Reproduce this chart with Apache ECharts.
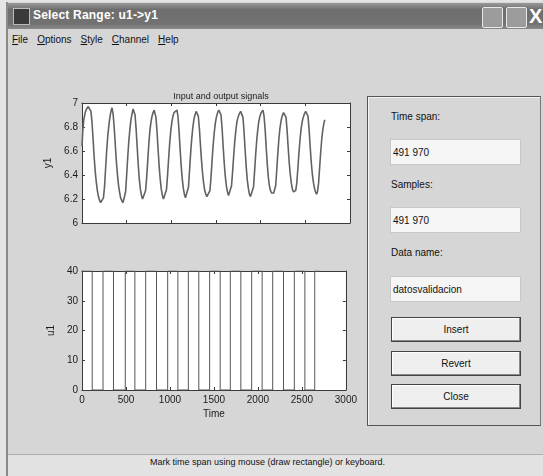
<!DOCTYPE html>
<html>
<head>
<meta charset="utf-8">
<script src="https://cdn.jsdelivr.net/npm/echarts@6/dist/echarts.min.js"></script>
<style>
  html, body { margin:0; padding:0; width:543px; height:476px; overflow:hidden; background:#e4e4e4; font-family:"Liberation Sans", Arial, sans-serif; }
  .abs { position:absolute; }
  #win { left:6px; top:2px; width:537px; height:474px; background:#d6d6d6; border-left:2px solid #8a8a8a; }
  #titlebar { left:8px; top:3px; width:535px; height:26px; background:linear-gradient(#9a9a9a 0%, #6e6e6e 25%, #727272 80%, #8a8a8a 100%); }
  #title { left:33px; top:8px; color:#fff; font-size:12px; font-weight:bold; letter-spacing:0.2px; }
  #icon { left:13px; top:8px; width:15px; height:15px; background:#3a3a3a; border:1px solid #bbb; }
  .wbtn { top:7px; width:19px; height:19px; border:1px solid #e8e8e8; background:#9c9c9c; border-radius:2px; }
  #menu { left:8px; top:34px; width:535px; height:16px; font-size:10px; color:#111; }
  #menu span { margin-left:4px; margin-right:5px; }
  #chart { left:0; top:0; width:360px; height:440px; }
  #panel { left:367px; top:96px; width:172px; height:328px; border:1px solid #555; border-right-color:#777; box-shadow: inset 1px 1px 0 #f4f4f4; }
  .lbl { font-size:10px; color:#111; }
  .edit { width:131px; height:26px; background:#f5f5f5; border:1px solid #c8c8c8; font-size:10px; color:#111; line-height:26px; padding-left:2px; box-sizing:border-box; }
  .btn { width:130px; height:25px; background:#efefef; border:1px solid #444; box-shadow: inset -1px -1px 0 #888, inset 1px 1px 0 #fff; font-size:10px; color:#111; text-align:center; line-height:24px; box-sizing:border-box; }
  #status { left:8px; top:454px; width:535px; height:22px; background:#e2e2e2; border-top:1px solid #b0b0b0; }
  #stxt { left:0; top:457px; width:535px; text-align:center; font-size:9px; color:#111; }
</style>
</head>
<body>
<div id="win" class="abs"></div>
<div id="titlebar" class="abs"></div>
<div id="icon" class="abs"></div>
<div id="title" class="abs">Select Range: u1-&gt;y1</div>
<div class="abs wbtn" style="left:482px;"></div>
<div class="abs wbtn" style="left:506px;"></div>
<div class="abs" style="left:529px;top:5px;color:#fff;font-size:20px;font-weight:bold;">X</div>
<div id="menu" class="abs"><span><u>F</u>ile</span><span><u>O</u>ptions</span><span><u>S</u>tyle</span><span><u>C</u>hannel</span><span><u>H</u>elp</span></div>
<div id="status" class="abs"></div>
<div id="chart" class="abs"></div>
<div id="panel" class="abs"></div>
<div class="abs lbl" style="left:391px;top:111px;">Time span:</div>
<div class="abs edit" style="left:390px;top:139px;">491 970</div>
<div class="abs lbl" style="left:391px;top:179px;">Samples:</div>
<div class="abs edit" style="left:390px;top:207px;">491 970</div>
<div class="abs lbl" style="left:391px;top:247px;">Data name:</div>
<div class="abs edit" style="left:390px;top:276px;">datosvalidacion</div>
<div class="abs btn" style="left:391px;top:317px;">Insert</div>
<div class="abs btn" style="left:391px;top:351px;">Revert</div>
<div class="abs btn" style="left:391px;top:384px;">Close</div>
<div id="stxt" class="abs">Mark time span using mouse (draw rectangle) or keyboard.</div>
<script>
// ---- data ----
var chartTitle = 'Input and output signals';
var xTicks = [0, 500, 1000, 1500, 2000, 2500, 3000];
var y1Ticks = [6, 6.2, 6.4, 6.6, 6.8, 7];
var u1Ticks = [0, 10, 20, 30, 40];

// output y1: [time, value]
var y1Data = [
 [0,6.64],[10,6.78],[20,6.86],[35,6.92],[50,6.95],[70,6.97],[90,6.96],
 [100,6.93],[112,6.84],[124,6.70],[136,6.55],[148,6.43],[160,6.34],[172,6.27],[184,6.22],[196,6.19],[208,6.17],[220,6.18],[230,6.16],[240,6.21],
 [252,6.30],[264,6.45],[276,6.60],[288,6.72],[300,6.81],[312,6.88],[324,6.93],[336,6.96],
 [348,6.91],[360,6.80],[372,6.66],[384,6.52],[396,6.41],[408,6.32],[420,6.26],[432,6.21],[444,6.19],[456,6.17],[466,6.19],[476,6.18],
 [488,6.26],[500,6.40],[512,6.55],[524,6.68],[536,6.78],[548,6.86],[560,6.91],[572,6.95],[582,6.96],
 [594,6.90],[606,6.78],[618,6.63],[630,6.48],[642,6.36],[654,6.28],[666,6.23],[678,6.20],[690,6.19],[700,6.21],
 [712,6.27],[724,6.38],[736,6.52],[748,6.66],[760,6.77],[772,6.84],[784,6.89],[796,6.92],[808,6.94],[817,6.93],
 [828,6.88],[840,6.76],[852,6.61],[864,6.47],[876,6.36],[888,6.28],[900,6.23],[912,6.20],[924,6.19],[934,6.21],
 [946,6.28],[958,6.40],[970,6.54],[982,6.67],[994,6.77],[1006,6.84],[1018,6.89],[1030,6.92],[1045,6.93],[1063,6.94],
 [1074,6.89],[1086,6.77],[1098,6.62],[1110,6.48],[1122,6.37],[1134,6.29],[1146,6.24],[1158,6.21],[1170,6.20],[1180,6.22],
 [1192,6.30],[1204,6.44],[1216,6.58],[1228,6.70],[1240,6.79],[1252,6.86],[1264,6.90],[1278,6.93],[1290,6.93],
 [1302,6.89],[1314,6.79],[1326,6.65],[1338,6.52],[1350,6.41],[1362,6.33],[1374,6.27],[1386,6.24],[1398,6.22],[1410,6.23],[1420,6.22],
 [1432,6.27],[1444,6.38],[1456,6.52],[1468,6.65],[1480,6.75],[1492,6.83],[1504,6.88],[1518,6.92],[1532,6.94],[1545,6.95],
 [1556,6.90],[1568,6.79],[1580,6.64],[1592,6.50],[1604,6.39],[1616,6.31],[1628,6.26],[1640,6.23],[1652,6.22],[1662,6.24],
 [1674,6.31],[1686,6.43],[1698,6.56],[1710,6.68],[1722,6.77],[1734,6.84],[1746,6.88],[1760,6.91],[1776,6.93],[1791,6.93],
 [1802,6.88],[1814,6.76],[1826,6.61],[1838,6.47],[1850,6.36],[1862,6.29],[1874,6.24],[1886,6.22],[1898,6.21],[1908,6.23],
 [1920,6.30],[1932,6.43],[1944,6.57],[1956,6.69],[1968,6.78],[1980,6.85],[1992,6.89],[2006,6.92],[2026,6.94],
 [2038,6.89],[2050,6.78],[2062,6.63],[2074,6.49],[2086,6.38],[2098,6.31],[2110,6.27],[2122,6.25],[2134,6.24],[2146,6.25],[2156,6.24],
 [2168,6.31],[2180,6.44],[2192,6.58],[2204,6.70],[2216,6.79],[2228,6.85],[2240,6.89],[2256,6.92],[2272,6.93],
 [2284,6.88],[2296,6.77],[2308,6.63],[2320,6.50],[2332,6.40],[2344,6.33],[2356,6.28],[2368,6.26],[2380,6.25],[2392,6.27],
 [2404,6.33],[2416,6.45],[2428,6.58],[2440,6.69],[2452,6.78],[2464,6.84],[2476,6.88],[2490,6.91],[2504,6.93],[2518,6.94],
 [2530,6.89],[2542,6.78],[2554,6.64],[2566,6.51],[2578,6.41],[2590,6.34],[2602,6.29],[2614,6.26],[2626,6.24],[2636,6.26],
 [2648,6.33],[2660,6.46],[2672,6.59],[2684,6.70],[2696,6.78],[2708,6.83],[2718,6.86]
];

// input u1: switching times and the level held from each time on
var u1Times  = [0, 116, 239, 358, 492, 601, 724, 847, 974, 1090, 1209, 1328, 1451, 1571, 1686, 1806, 1929, 2048, 2168, 2291, 2414, 2534, 2646, 2700];
var u1Values = [40, 0, 40, 0, 40, 0, 40, 0, 40, 0, 40, 0, 40, 0, 40, 0, 40, 0, 40, 0, 40, 0, 40, 40];

var u1Data = u1Times.map(function (t, i) { return [t, u1Values[i]]; });

var FONT = '"Liberation Sans", Arial, sans-serif';
var axisCol = '#3a3a3a';
var lblStyle = { color: '#1a1a1a', fontSize: 10, fontFamily: FONT };
function plain(v) { return String(v); }

function xAx(grid, pos, labels, name) {
  return {
    type: 'value', gridIndex: grid, position: pos, min: xTicks[0], max: xTicks[xTicks.length - 1], interval: 500,
    axisLine: { show: true, onZero: false, lineStyle: { color: axisCol, width: 1 } },
    axisTick: { show: true, inside: true, length: 3, lineStyle: { color: axisCol } },
    axisLabel: Object.assign({ show: labels, margin: 5, formatter: plain }, lblStyle),
    splitLine: { show: false },
    name: name || '', nameLocation: 'middle', nameGap: 19,
    nameTextStyle: { color: '#1a1a1a', fontSize: 10, fontFamily: FONT }
  };
}
function yAx(grid, pos, ticks, iv, labels, name) {
  return {
    type: 'value', gridIndex: grid, position: pos, min: ticks[0], max: ticks[ticks.length - 1], interval: iv,
    axisLine: { show: true, onZero: false, lineStyle: { color: axisCol, width: 1 } },
    axisTick: { show: true, inside: true, length: 3, lineStyle: { color: axisCol } },
    axisLabel: Object.assign({ show: labels, margin: 4, formatter: plain }, lblStyle),
    splitLine: { show: false },
    name: name || '', nameLocation: 'middle', nameGap: 24, nameRotate: 90,
    nameTextStyle: { color: '#1a1a1a', fontSize: 10, fontFamily: FONT }
  };
}

var chart = echarts.init(document.getElementById('chart'), null, { renderer: 'canvas' });
chart.setOption({
  animation: false,
  backgroundColor: 'transparent',
  title: {
    text: chartTitle, left: 216, top: 87, textAlign: 'center',
    textStyle: { fontSize: 9, fontWeight: 'normal', color: '#1a1a1a', fontFamily: FONT }
  },
  grid: [
    { left: 82, top: 103, width: 268, height: 120, show: true, backgroundColor: '#ffffff', borderWidth: 0 },
    { left: 82, top: 271, width: 268, height: 119, show: true, backgroundColor: '#ffffff', borderWidth: 0 }
  ],
  xAxis: [
    xAx(0, 'bottom', false),
    xAx(1, 'bottom', true, 'Time'),
    xAx(0, 'top', false),
    xAx(1, 'top', false)
  ],
  yAxis: [
    yAx(0, 'left', y1Ticks, 0.2, true, 'y1'),
    yAx(1, 'left', u1Ticks, 10, true, 'u1'),
    yAx(0, 'right', y1Ticks, 0.2, false),
    yAx(1, 'right', u1Ticks, 10, false)
  ],
  series: [
    { type: 'line', xAxisIndex: 0, yAxisIndex: 0, data: y1Data, showSymbol: false, smooth: false,
      lineStyle: { color: '#626262', width: 1.6 } },
    { type: 'line', xAxisIndex: 1, yAxisIndex: 1, data: u1Data, showSymbol: false, step: 'end',
      lineStyle: { color: '#555555', width: 1 } }
  ]
});
</script>
</body>
</html>
